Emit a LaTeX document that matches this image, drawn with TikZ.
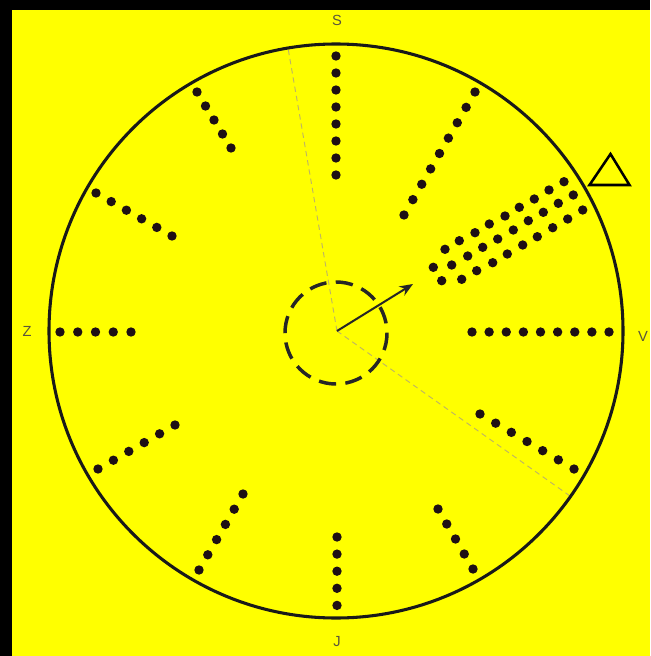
\documentclass[tikz,border=0pt]{standalone}
\usepackage{fontspec}
\setmainfont{Liberation Sans}
\usetikzlibrary{arrows.meta}
\definecolor{bgyellow}{RGB}{255,255,0}
\definecolor{labelgray}{RGB}{90,85,60}
\definecolor{faintline}{RGB}{190,180,100}
\definecolor{dotcol}{RGB}{30,15,20}
\tikzset{
  dotmark/.style={fill=dotcol},
  rim/.style={line width=2.3pt, draw=black!90},
  innerring/.style={line width=2.6pt, draw=black!85, dash pattern=on 13pt off 7pt},
  faint/.style={line width=0.7pt, draw=faintline, dash pattern=on 4pt off 3pt},
  pointer/.style={line width=1.5pt, draw=black!85, -{Stealth[length=10pt,width=8pt]}},
  compass/.style={text=labelgray, font=\fontsize{11}{12}\selectfont, inner sep=0pt},
  flagmark/.style={line width=1.9pt, draw=black, fill=bgyellow, line join=miter}
}
\begin{document}
\begin{tikzpicture}[x=0.75pt,y=-0.75pt]
\useasboundingbox (0,0) rectangle (650,656);
\fill[black] (0,0) rectangle (650,656);
\fill[bgyellow] (12,10) rectangle (650,656);
% labels
\node[compass] (lS) at (337,20) {S};
\node[compass] (lJ) at (337,642) {J};
\node[compass] (lZ) at (27,331) {Z};
\node[compass] (lV) at (643,336) {V};
% centre
\coordinate (c) at (337,331);
\coordinate (topend) at (288,48);
\coordinate (lowend) at (570,496);
\draw[faint] (c) -- (topend);
\draw[faint] (c) -- (lowend);
% rim
\draw[rim] (336,331) circle[radius=287];
% inner dashed ring
\draw[innerring] (336,333) circle[radius=51];
% arrow
\coordinate (tip) at (413,284);
\draw[pointer] (c) -- (tip);
% dot rows: start x, start y, step x, step y, count
\foreach \sx/\sy/\dx/\dy/\n in {
  336/56/0/17/8,
  197/92/8.5/14/5,
  475/92/-8.875/15.375/9,
  96/193/15.2/8.6/6,
  60/332/17.75/0/5,
  98/469/15.4/-8.8/6,
  199/570/8.8/-15.2/6,
  337/537/0/17.1/5,
  438/509/8.75/15/5,
  480/414/15.67/9.17/7,
  472/332/17.125/0/9}{
  \pgfmathtruncatemacro{\m}{\n-1}
  \foreach \k in {0,...,\m}{
    \fill[dotmark] ({\sx+\k*\dx},{\sy+\k*\dy}) circle[radius=4.7];
  }
}
% wide band of dots
\foreach \p in {
  (445,249.3),(459.3,240.7),(475,232.7),(489.3,224),(505,216),(519.3,207.3),(534.3,199),(549,190),(564,181.7),
  (433.3,267.3),(451.7,265),(467.7,256),(482.7,247.3),(497.7,239),(513.3,230),(528.3,220.7),(543.3,212.3),(558.3,203.3),(573.3,195),
  (441.7,280.7),(461.7,279.3),(476.7,270.7),(492.7,262.7),(507.3,254),(522.7,245),(537.3,236.7),(552.7,227.7),(567.7,219),(582.7,210)}{
  \fill[dotmark] \p circle[radius=4.7];
}
% triangle flag
\coordinate (t1) at (589.5,185);
\coordinate (t2) at (610.5,154);
\coordinate (t3) at (629.5,185);
\draw[flagmark] (t1) -- (t2) -- (t3) -- cycle;
\end{tikzpicture}
\end{document}
